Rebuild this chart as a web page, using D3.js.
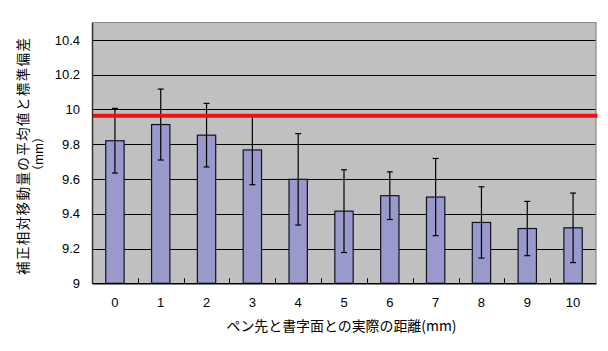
<!DOCTYPE html>
<html><head><meta charset="utf-8">
<script src="https://cdn.jsdelivr.net/npm/d3@7"></script>
<style>body{margin:0;background:#fff}svg{display:block}</style>
</head><body>
<svg id="c" width="608" height="351"></svg>
<script>
const categories = ["0","1","2","3","4","5","6","7","8","9","10"];
const means = [9.82, 9.913, 9.852, 9.767, 9.598, 9.415, 9.504, 9.496, 9.35, 9.315, 9.319];
const sds = [0.186, 0.204, 0.183, 0.200, 0.263, 0.238, 0.137, 0.222, 0.205, 0.156, 0.200];
const refValue = 9.964;
const yTicks = [9, 9.2, 9.4, 9.6, 9.8, 10, 10.2, 10.4];
const yTitle = ["補正相対移動量の平均値と標準偏差", "（mm）"];
const xTitle = "ペン先と書字面との実際の距離(mm)";

const svg = d3.select("#c");
const L = 92, R = 596, T = 22.5, B = 283.3;
const x = d3.scaleBand().domain(categories).range([L, R]).paddingInner(0.6).paddingOuter(0.3);
const xb = d3.scaleBand().domain(categories).range([L, R]);
const y = d3.scaleLinear().domain([9, 10.5]).range([B, T]);

svg.append("rect").attr("x", L).attr("y", T).attr("width", R - L).attr("height", B - T).attr("fill", "#c0c0c0");

// gridlines
svg.append("g").selectAll("line").data(yTicks.filter(d => d > 9)).join("line")
  .attr("x1", L).attr("x2", R).attr("y1", d => Math.round(y(d)) + 0.5).attr("y2", d => Math.round(y(d)) + 0.5)
  .attr("stroke", "#000").attr("stroke-width", 1);

// border top/right
svg.append("path").attr("d", `M${L},${T}H${R}V${B}`).attr("fill", "none").attr("stroke", "#888").attr("stroke-width", 1.2);

// bars
svg.append("g").selectAll("rect").data(categories).join("rect")
  .attr("x", d => x(d)).attr("width", x.bandwidth())
  .attr("y", (d, i) => y(means[i])).attr("height", (d, i) => B - y(means[i]))
  .attr("fill", "#9999cc").attr("stroke", "#111122").attr("stroke-width", 1.2);

// error bars
const eb = svg.append("g").attr("stroke", "#000").attr("stroke-width", 1.2);
categories.forEach((c, i) => {
  const cx = x(c) + x.bandwidth() / 2;
  const y1 = y(means[i] + sds[i]), y2 = y(means[i] - sds[i]);
  eb.append("line").attr("x1", cx).attr("x2", cx).attr("y1", y1).attr("y2", y2);
  eb.append("line").attr("x1", cx - 3).attr("x2", cx + 3).attr("y1", y1).attr("y2", y1);
  eb.append("line").attr("x1", cx - 3).attr("x2", cx + 3).attr("y1", y2).attr("y2", y2);
});

// reference line
svg.append("line").attr("x1", L).attr("x2", R + 1.5).attr("y1", y(refValue)).attr("y2", y(refValue))
  .attr("stroke", "#ee1111").attr("stroke-width", 4);

// axes
const yAxis = d3.axisLeft(y).tickValues(yTicks).tickSize(0).tickPadding(12).tickFormat(d => String(d));
const gy = svg.append("g").attr("transform", `translate(${L},0)`).call(yAxis);
gy.select(".domain").attr("stroke", "#333").attr("stroke-width", 1.5);
gy.selectAll("text").attr("font-family", "Liberation Sans, Arial, sans-serif").attr("font-size", 13).attr("fill", "#000");

const xAxis = d3.axisBottom(x).tickSize(0).tickPadding(14);
const gx = svg.append("g").attr("transform", `translate(0,${B})`).call(xAxis);
gx.select(".domain").attr("stroke", "#000").attr("stroke-width", 1.5);
gx.selectAll("text").attr("font-family", "Liberation Sans, Arial, sans-serif").attr("font-size", 13).attr("fill", "#000");

// inner ticks at band boundaries
svg.append("g").selectAll("line").data(categories.slice(1)).join("line")
  .attr("x1", d => Math.round(xb(d)) + 0.5).attr("x2", d => Math.round(xb(d)) + 0.5)
  .attr("y1", B).attr("y2", B - 5).attr("stroke", "#000").attr("stroke-width", 1);

// titles
svg.append("text").attr("x", 341.5).attr("y", 331).attr("text-anchor", "middle")
  .attr("font-family", "Noto Sans CJK JP, sans-serif").attr("font-size", 14)
  .attr("textLength", 230).attr("lengthAdjust", "spacingAndGlyphs").text(xTitle);

svg.append("text").attr("transform", `translate(28,156.5) rotate(-90)`).attr("text-anchor", "middle")
  .attr("font-family", "Noto Sans CJK JP, sans-serif").attr("font-size", 13.5)
  .attr("textLength", 237).attr("lengthAdjust", "spacing").text(yTitle[0]);
svg.append("text").attr("transform", `translate(43,154) rotate(-90)`).attr("text-anchor", "middle")
  .attr("font-family", "Noto Sans CJK JP, sans-serif").attr("font-size", 12).text(yTitle[1]);
</script>
</body></html>
